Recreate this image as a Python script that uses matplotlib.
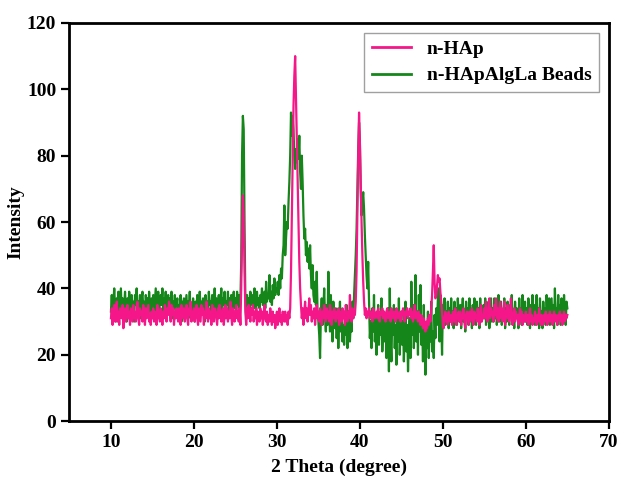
import numpy as np
import matplotlib
matplotlib.use('Agg')
import matplotlib.pyplot as plt

# XRD patterns, 2 theta 10-65 deg sampled every 0.1 deg
two_theta = np.round(np.arange(10.0, 65.05, 0.1), 1)

# n-HAp
hap = [
    31, 34, 29, 33, 35, 30, 32, 36, 30, 33,
    29, 34, 32, 31, 35, 28, 33, 34, 30, 32,
    35, 31, 33, 29, 34, 32, 30, 35, 31, 33,
    30, 33, 36, 31, 29, 34, 32, 33, 30, 35,
    32, 29, 34, 31, 33, 35, 30, 32, 29, 33,
    31, 34, 30, 33, 32, 29, 35, 31, 33, 30,
    34, 32, 29, 33, 31, 35, 33, 30, 34, 32,
    36, 33, 30, 35, 32, 34, 29, 33, 31, 34,
    32, 30, 34, 33, 29, 35, 32, 31, 34, 30,
    33, 35, 31, 29, 34, 32, 36, 30, 33, 31,
    34, 30, 33, 35, 31, 29, 34, 32, 30, 35,
    32, 34, 29, 33, 31, 36, 32, 30, 34, 31,
    33, 29, 35, 32, 30, 34, 33, 31, 29, 34,
    31, 35, 32, 30, 33, 34, 29, 32, 35, 31,
    34, 30, 33, 31, 36, 32, 29, 34, 33, 30,
    32, 35, 31, 33, 30, 34, 29, 40, 55, 68,
    62, 45, 33, 29, 34, 31, 35, 33, 30, 34,
    32, 35, 30, 33, 31, 34, 29, 33, 32, 30,
    34, 31, 33, 29, 32, 35, 31, 30, 33, 29,
    32, 30, 34, 31, 29, 33, 30, 32, 28, 31,
    33, 29, 31, 34, 30, 32, 29, 33, 31, 30,
    33, 30, 32, 29, 33, 31, 34, 45, 62, 78,
    95, 104, 110, 98, 85, 72, 60, 48, 40, 35,
    31, 34, 29, 33, 36, 31, 34, 30, 33, 37,
    32, 35, 30, 33, 31, 34, 29, 32, 35, 31,
    33, 30, 34, 32, 29, 33, 31, 35, 32, 30,
    34, 31, 33, 30, 35, 32, 29, 33, 31, 34,
    32, 30, 33, 31, 34, 29, 33, 32, 30, 34,
    31, 33, 29, 35, 32, 30, 33, 31, 38, 32,
    30, 34, 31, 33, 32, 36, 45, 62, 80, 93,
    84, 72, 60, 50, 42, 36, 32, 34, 31, 33,
    32, 34, 31, 33, 32, 30, 34, 33, 31, 32,
    33, 31, 34, 32, 30, 33, 32, 34, 31, 33,
    32, 30, 33, 34, 31, 32, 33, 30, 34, 32,
    31, 33, 32, 30, 34, 33, 31, 32, 33, 30,
    33, 32, 34, 31, 30, 33, 32, 34, 31, 33,
    32, 34, 31, 33, 30, 32, 35, 31, 33, 32,
    30, 33, 31, 29, 32, 30, 28, 31, 29, 27,
    30, 28, 31, 29, 32, 30, 34, 38, 45, 53,
    42, 37, 38, 41, 44, 42, 43, 39, 36, 33,
    29, 28, 31, 33, 30, 32, 29, 33, 31, 30,
    32, 29, 33, 31, 30, 34, 29, 32, 31, 33,
    30, 33, 29, 32, 31, 34, 30, 28, 32, 33,
    31, 29, 33, 30, 32, 34, 31, 29, 33, 31,
    32, 30, 34, 31, 29, 33, 35, 30, 32, 31,
    34, 31, 36, 32, 30, 33, 37, 31, 34, 32,
    33, 30, 35, 32, 37, 31, 34, 30, 33, 36,
    31, 34, 30, 32, 36, 29, 33, 31, 35, 32,
    30, 33, 37, 31, 29, 32, 34, 30, 33, 31,
    32, 29, 31, 34, 30, 33, 29, 32, 31, 30,
    33, 30, 32, 29, 31, 34, 30, 32, 29, 31,
    30, 33, 31, 29, 32, 30, 34, 31, 29, 32,
    31, 29, 32, 30, 33, 31, 29, 32, 30, 33,
    30, 32, 29, 31, 33, 30, 32, 31, 29, 32,
    31, 33, 30, 32, 29, 31, 33, 30, 32, 31,
    32,
]

# n-HAp / alginate / La beads
beads = [
    33, 38, 31, 36, 40, 34, 30, 37, 35, 39,
    32, 36, 40, 33, 37, 31, 35, 39, 34, 30,
    37, 33, 39, 35, 31, 38, 34, 36, 30, 38,
    35, 40, 32, 36, 34, 38, 31, 37, 39, 33,
    36, 31, 38, 34, 37, 33, 39, 35, 30, 37,
    34, 38, 32, 36, 40, 33, 35, 39, 31, 37,
    38, 35, 40, 33, 37, 34, 39, 31, 36, 38,
    33, 37, 35, 39, 31, 36, 34, 38, 32, 35,
    37, 31, 35, 33, 38, 30, 36, 34, 37, 32,
    35, 38, 32, 36, 34, 39, 31, 35, 33, 37,
    34, 30, 36, 33, 38, 35, 31, 39, 34, 36,
    32, 37, 35, 30, 38, 34, 36, 33, 39, 35,
    36, 33, 38, 31, 35, 40, 34, 37, 32, 36,
    38, 34, 36, 40, 33, 37, 35, 39, 31, 36,
    35, 39, 33, 37, 34, 38, 32, 36, 39, 34,
    37, 33, 39, 35, 38, 34, 36, 48, 80, 92,
    88, 60, 36, 31, 38, 35, 37, 33, 39, 36,
    35, 38, 34, 40, 36, 33, 39, 35, 37, 34,
    38, 36, 40, 35, 37, 39, 34, 42, 36, 38,
    37, 44, 36, 39, 35, 41, 37, 43, 38, 40,
    39, 42, 38, 44, 40, 46, 43, 50, 53, 65,
    50, 55, 60, 58, 66, 72, 80, 93, 86, 92,
    88, 80, 76, 82, 78, 85, 79, 86, 75, 70,
    80, 72, 62, 55, 58, 50, 54, 48, 52, 46,
    53, 44, 40, 47, 38, 36, 42, 35, 45, 33,
    30, 26, 19, 32, 37, 29, 34, 40, 31, 27,
    35, 29, 45, 33, 27, 38, 30, 24, 36, 31,
    28, 34, 25, 32, 22, 30, 36, 27, 33, 24,
    29, 23, 31, 26, 35, 22, 28, 33, 24, 30,
    27, 36, 31, 38, 44, 50, 58, 70, 82, 90,
    84, 70, 62, 66, 69, 64, 56, 50, 44, 40,
    48, 36, 25, 30, 22, 34, 27, 38, 24, 31,
    20, 29, 35, 23, 31, 26, 37, 21, 28, 33,
    24, 30, 19, 27, 34, 15, 40, 25, 18, 32,
    26, 35, 22, 29, 17, 31, 24, 37, 20, 28,
    33, 23, 30, 18, 27, 36, 21, 29, 15, 25,
    31, 19, 42, 26, 35, 22, 30, 44, 24, 33,
    20, 38, 27, 41, 23, 30, 18, 35, 25, 14,
    28, 22, 33, 19, 30, 24, 36, 21, 27, 19,
    32, 25, 34, 29, 37, 40, 24, 38, 31, 20,
    35, 30, 37, 29, 33, 31, 36, 28, 34, 30,
    37, 30, 33, 28, 36, 31, 34, 29, 37, 32,
    30, 35, 28, 33, 37, 30, 32, 27, 36, 31,
    34, 29, 37, 31, 33, 28, 35, 30, 37, 32,
    29, 36, 31, 34, 28, 37, 30, 33, 31, 35,
    31, 37, 29, 34, 32, 36, 28, 33, 37, 30,
    34, 30, 37, 31, 35, 29, 33, 38, 30, 32,
    36, 29, 33, 31, 37, 28, 34, 30, 36, 32,
    29, 35, 32, 38, 30, 33, 28, 36, 31, 34,
    33, 28, 37, 31, 34, 29, 38, 32, 30, 36,
    30, 34, 29, 37, 32, 28, 35, 31, 38, 30,
    35, 29, 33, 38, 30, 34, 28, 37, 31, 33,
    28, 36, 31, 34, 29, 38, 32, 30, 37, 29,
    33, 37, 30, 35, 28, 40, 31, 34, 29, 38,
    31, 35, 29, 37, 32, 30, 38, 33, 29, 36,
    34,
]

series_labels = ['n-HAp', 'n-HApAlgLa Beads']
x_ticks = [10, 20, 30, 40, 50, 60, 70]
y_ticks = [0, 20, 40, 60, 80, 100, 120]

plt.rcParams['font.family'] = 'Liberation Serif'
plt.rcParams['font.weight'] = 'bold'

fig = plt.figure(figsize=(6.2, 4.78), dpi=100)
ax = fig.add_axes([0.112, 0.119, 0.870, 0.833])

l_beads, = ax.plot(two_theta, beads, color='#15861a', lw=1.6, zorder=2)
l_hap, = ax.plot(two_theta, hap, color='#f5168a', lw=1.6, zorder=3)

ax.set_xlim(5, 70)
ax.set_ylim(0, 120)
ax.set_xticks(x_ticks)
ax.set_yticks(y_ticks)
ax.tick_params(direction='out', length=6, width=1.6, labelsize=14)
for lab in ax.get_xticklabels() + ax.get_yticklabels():
    lab.set_fontweight('bold')
for s in ax.spines.values():
    s.set_linewidth(2.0)

ax.set_xlabel('2 Theta (degree)', fontsize=14, fontweight='bold', labelpad=5)
ax.set_ylabel('Intensity', fontsize=14, fontweight='bold', labelpad=2)

leg = ax.legend([l_hap, l_beads], series_labels, loc='upper right',
                fancybox=False, edgecolor='#888888',
                handlelength=2.0, borderaxespad=0.5, labelspacing=0.45,
                prop={'weight': 'bold', 'size': 14})
leg.get_frame().set_linewidth(1.0)
for h in leg.legend_handles:
    h.set_linewidth(2.0)

fig.savefig('out.png', dpi=100)
